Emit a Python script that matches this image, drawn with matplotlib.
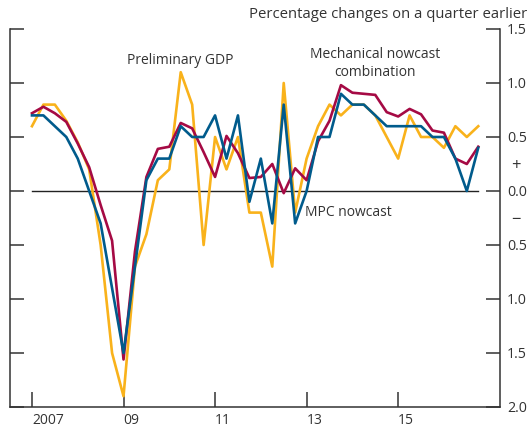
import matplotlib.pyplot as plt

plt.rcParams['font.family'] = ['Open Sans', 'DejaVu Sans']

# quarterly data, 2007 Q1 to 2016 Q4
prelim_gdp = [0.6, 0.8, 0.8, 0.65, 0.45, 0.2, -0.5, -1.5, -1.9, -0.7,
              -0.4, 0.1, 0.2, 1.1, 0.8, -0.5, 0.5, 0.2, 0.5, -0.2,
              -0.2, -0.7, 1.0, -0.2, 0.3, 0.6, 0.8, 0.7, 0.8, 0.8,
              0.7, 0.5, 0.3, 0.7, 0.5, 0.5, 0.4, 0.6, 0.5, 0.6]
mech_nowcast = [0.72, 0.78, 0.72, 0.64, 0.44, 0.22, -0.13, -0.46, -1.56, -0.56,
                0.13, 0.39, 0.41, 0.63, 0.58, 0.36, 0.13, 0.51, 0.35, 0.12,
                0.13, 0.25, -0.02, 0.21, 0.1, 0.46, 0.65, 0.98, 0.91, 0.9,
                0.89, 0.73, 0.69, 0.76, 0.71, 0.56, 0.54, 0.3, 0.25, 0.41]
mpc_nowcast = [0.7, 0.7, 0.6, 0.5, 0.3, 0.0, -0.3, -0.9, -1.5, -0.7,
               0.1, 0.3, 0.3, 0.6, 0.5, 0.5, 0.7, 0.3, 0.7, -0.1,
               0.3, -0.3, 0.8, -0.3, 0.0, 0.5, 0.5, 0.9, 0.8, 0.8,
               0.7, 0.6, 0.6, 0.6, 0.6, 0.5, 0.5, 0.3, 0.0, 0.4]

year_labels = ['2007', '09', '11', '13', '15']
yticks = [1.5, 1.0, 0.5, 0.0, -0.5, -1.0, -1.5, -2.0]

txt = '#333333'
quarters = list(range(len(prelim_gdp)))

fig = plt.figure(figsize=(5.32, 4.28), dpi=100)
ax = fig.add_axes([10 / 532, 21 / 428, 490 / 532, 378 / 428])

ax.plot([quarters[0], quarters[-1]], [0, 0], color='#222222', lw=1.0, zorder=1)
ax.plot(quarters, prelim_gdp, color='#F9B21B', lw=1.9, zorder=2)
ax.plot(quarters, mech_nowcast, color='#A50A44', lw=1.9, zorder=3)
ax.plot(quarters, mpc_nowcast, color='#005B8C', lw=1.9, zorder=4)

ax.set_xlim(-1.92, 40.9)
ax.set_ylim(-2.0, 1.5)

ax.spines['top'].set_visible(False)
for s in ['left', 'right', 'bottom']:
    ax.spines[s].set_color(txt)
    ax.spines[s].set_linewidth(1.1)

ax.set_xticks(quarters[::8])
ax.set_xticklabels(year_labels, ha='left')
ax.tick_params(axis='x', direction='in', length=11, width=1.1, color=txt,
               labelsize=10, labelcolor=txt, pad=4)

ax.set_yticks(yticks)
ax.set_yticklabels(['%.1f' % abs(v) for v in yticks])
ax.set_yticks([0.25, -0.25], minor=True)
ax.set_yticklabels(['+', '\u2212'], minor=True)
ax.yaxis.set_ticks_position('both')
ax.tick_params(axis='y', which='major', direction='in', length=10, width=1.1,
               color=txt, labelleft=False, labelright=True, labelsize=10.3,
               labelcolor=txt, pad=5)
ax.tick_params(axis='y', which='minor', length=0, labelleft=False,
               labelright=True, labelsize=12, labelcolor=txt, pad=8)

ax.text(13.0, 1.21, 'Preliminary GDP', ha='center', va='center',
        fontsize=10, color=txt)
ax.text(30.0, 1.18, 'Mechanical nowcast\ncombination', ha='center',
        va='center', fontsize=10, color=txt, linespacing=1.35)
ax.text(23.9, -0.2, 'MPC nowcast', ha='left', va='center',
        fontsize=10, color=txt)

fig.text(527 / 532, 1 - 15 / 428, 'Percentage changes on a quarter earlier',
         ha='right', va='center', fontsize=10.7, color=txt)

fig.savefig('out.png', dpi=100)
